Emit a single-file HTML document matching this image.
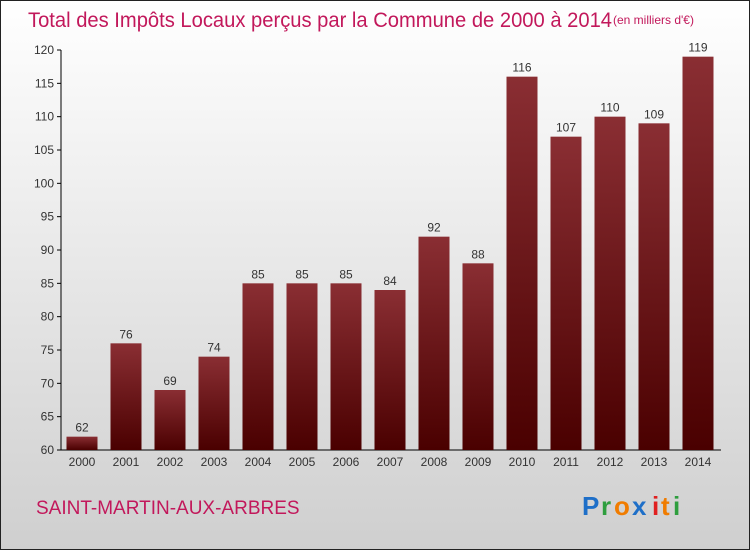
<!DOCTYPE html>
<html><head><meta charset="utf-8"><style>
body{margin:0;width:750px;height:550px;overflow:hidden}
svg{display:block;font-family:"Liberation Sans",sans-serif}
</style></head><body>
<svg width="750" height="550">
<defs>
<linearGradient id="bg" x1="0" y1="0" x2="0" y2="1"><stop offset="0" stop-color="#ffffff"/><stop offset="1" stop-color="#cfcfcf"/></linearGradient>
<linearGradient id="bar" x1="0" y1="0" x2="0" y2="1"><stop offset="0" stop-color="#8a2e33"/><stop offset="1" stop-color="#4a0000"/></linearGradient>
</defs>
<rect x="0.5" y="0.5" width="749" height="549" fill="url(#bg)" stroke="#222"/>
<text x="28" y="27" font-size="21" fill="#c2185b" textLength="584" lengthAdjust="spacingAndGlyphs">Total des Impôts Locaux perçus par la Commune de 2000 à 2014</text>
<text x="613" y="24" font-size="12" fill="#c2185b">(en milliers d'€)</text>
<g id="axes"></g>
<g id="bars"></g>
<text x="36" y="514" font-size="19" fill="#c2185b">SAINT-MARTIN-AUX-ARBRES</text>
<g font-size="26" font-weight="bold">
<text x="582" y="515" fill="#1e6fc8">P</text><text x="601" y="515" fill="#2e9e3e">r</text><text x="614" y="515" fill="#f07c00">o</text><text x="632" y="515" fill="#1e6fc8">x</text><text x="652" y="515" fill="#e02020">i</text><text x="661" y="515" fill="#f07c00">t</text><text x="673" y="515" fill="#2e9e3e">i</text>
</g>
</svg>
<script>
const years=["2000","2001","2002","2003","2004","2005","2006","2007","2008","2009","2010","2011","2012","2013","2014"];
const values=[62,76,69,74,85,85,85,84,92,88,116,107,110,109,119];
const yTicks=[60,65,70,75,80,85,90,95,100,105,110,115,120];
const NS="http://www.w3.org/2000/svg";
const y=v=>450-(v-60)*400/60;
const x=i=>82+i*44;
const ax=document.getElementById('axes'),bs=document.getElementById('bars');
function mk(t,a,p){const e=document.createElementNS(NS,t);for(const k in a)e.setAttribute(k,a[k]);p.appendChild(e);return e;}
let l=mk('line',{x1:61,y1:50,x2:61,y2:450,stroke:'#000'},ax);


l=mk('line',{x1:61,y1:450,x2:721,y2:450,stroke:'#000'},ax);


yTicks.forEach(v=>{
 mk('line',{x1:57,y1:y(v),x2:61,y2:y(v),stroke:'#000'},ax);
 const t=mk('text',{x:54,y:y(v)+4,'text-anchor':'end','font-size':12,fill:'#333'},ax);t.textContent=v;
 
 
});
years.forEach((yr,i)=>{
 const r=mk('rect',{x:x(i)-15.5,y:y(values[i]),width:31,height:450-y(values[i]),fill:'url(#bar)'},bs);
 
 
 const t=mk('text',{x:x(i),y:y(values[i])-5,'text-anchor':'middle','font-size':12,fill:'#333'},bs);t.textContent=values[i];
 
 
 const xl=mk('text',{x:x(i),y:466,'text-anchor':'middle','font-size':12,fill:'#333'},ax);xl.textContent=yr;
 
 
});
</script>
</body></html>
